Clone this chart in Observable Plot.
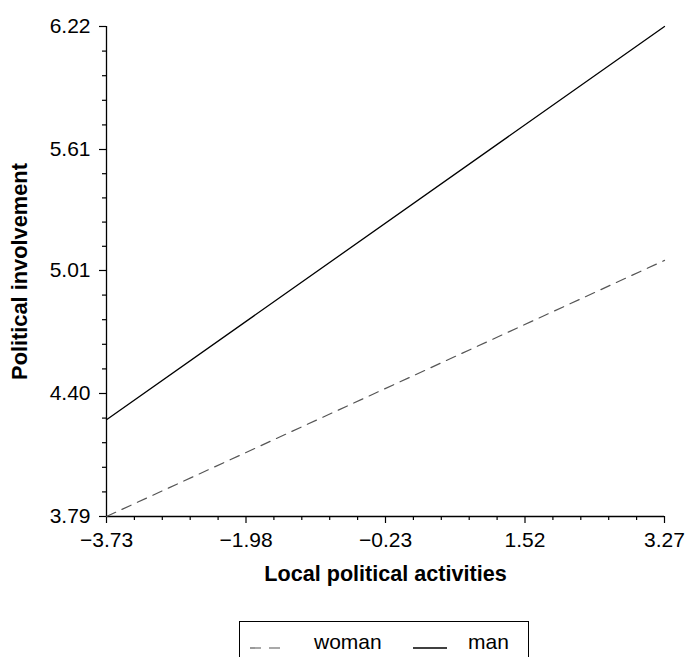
<!DOCTYPE html>
<html>
<head>
<meta charset="utf-8">
<script src="https://cdn.jsdelivr.net/npm/d3@7"></script>
<script src="https://cdn.jsdelivr.net/npm/@observablehq/plot@0.6"></script>
<style>
  body { margin: 0; background: #fff; font-family: "Liberation Sans", Arial, Helvetica, sans-serif; }
  #wrap { position: relative; width: 687px; height: 657px; overflow: hidden; }
  #legend { position: absolute; left: 239px; top: 621px; width: 290px; height: 60px;
            border: 1px solid #000; box-sizing: border-box; }
  #legend svg { position: absolute; left: 0; top: 0; }
</style>
</head>
<body>
<div id="wrap">
  <div id="chart"></div>
  <div id="legend"></div>
</div>
<script>
// ---- data ----
const xValues = [-3.73, 3.27];
const womanValues = [3.79, 5.06];
const manValues = [4.27, 6.22];
const seriesNames = ["woman", "man"];
const xTicks = [-3.73, -1.98, -0.23, 1.52, 3.27];
const yTicks = [3.79, 4.40, 5.01, 5.61, 6.22];

const rows = [];
xValues.forEach((x, i) => {
  rows.push({x, y: womanValues[i], group: seriesNames[0]});
  rows.push({x, y: manValues[i], group: seriesNames[1]});
});

function minorOf(ticks, n) {
  const out = [];
  for (let i = 0; i < ticks.length - 1; i++) {
    const step = (ticks[i + 1] - ticks[i]) / n;
    for (let k = 1; k < n; k++) out.push(ticks[i] + k * step);
  }
  return out;
}
const xMinor = minorOf(xTicks, 5);
const yMinor = minorOf(yTicks, 5);
const fmt = d => (d < 0 ? "\u2212" + Math.abs(d).toFixed(2) : d.toFixed(2));

const chart = Plot.plot({
  width: 687,
  height: 600,
  marginLeft: 106,
  marginRight: 23,
  marginTop: 26,
  marginBottom: 84,
  style: { fontFamily: "'Liberation Sans', Arial, Helvetica, sans-serif", fontSize: "21px", color: "#000", background: "#fff" },
  x: { domain: [xTicks[0], xTicks[xTicks.length - 1]] },
  y: { domain: [yTicks[0], yTicks[yTicks.length - 1]] },
  marks: [
    Plot.axisX({ ticks: xMinor, tickSize: 4, tickFormat: () => "", label: null, strokeWidth: 1.2 }),
    Plot.axisY({ ticks: yMinor, tickSize: 4, tickFormat: () => "", label: null, strokeWidth: 1.2 }),
    Plot.axisX({ ticks: xTicks, tickSize: 7, tickPadding: 9, tickFormat: fmt, label: null, strokeWidth: 1.2 }),
    Plot.axisY({ ticks: yTicks, tickSize: 7, tickPadding: 9, tickFormat: fmt, label: null, strokeWidth: 1.2 }),
    Plot.ruleX([xTicks[0]], { stroke: "#000", strokeWidth: 1.3 }),
    Plot.ruleY([yTicks[0]], { stroke: "#000", strokeWidth: 1.3 }),
    Plot.line(rows.filter(d => d.group === "woman"), { x: "x", y: "y", stroke: "#555", strokeWidth: 1.2, strokeDasharray: "10,7" }),
    Plot.line(rows.filter(d => d.group === "man"), { x: "x", y: "y", stroke: "#000", strokeWidth: 1.3 }),
    Plot.text(["Local political activities"], { frameAnchor: "bottom", dy: 64, fontWeight: "bold", fontSize: 21.6 }),
    Plot.text(["Political involvement"], { frameAnchor: "left", dx: -86, rotate: -90, textAnchor: "middle", fontWeight: "bold", fontSize: 21.8 })
  ]
});
document.getElementById("chart").appendChild(chart);

// legend
const lg = d3.select("#legend").append("svg").attr("width", 290).attr("height", 60)
  .style("font-family", "'Liberation Sans', Arial, Helvetica, sans-serif").style("font-size", "21px");
lg.append("line").attr("x1", 10).attr("x2", 40).attr("y1", 26).attr("y2", 26)
  .attr("stroke", "#555").attr("stroke-width", 1.2).attr("stroke-dasharray", "11,8");
lg.append("text").attr("x", 74).attr("y", 27).text(seriesNames[0]);
lg.append("line").attr("x1", 173).attr("x2", 207).attr("y1", 26).attr("y2", 26)
  .attr("stroke", "#000").attr("stroke-width", 1.3);
lg.append("text").attr("x", 228).attr("y", 27).text(seriesNames[1]);
</script>
</body>
</html>
